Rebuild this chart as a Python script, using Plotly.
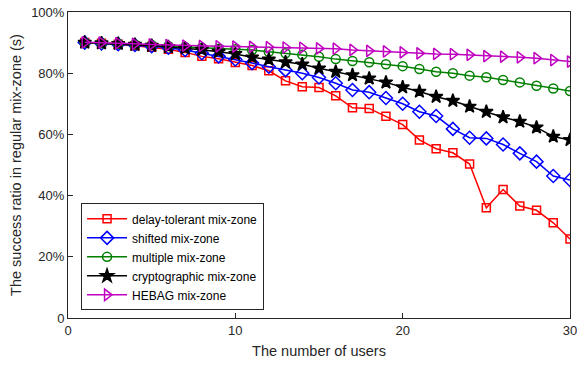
import plotly.graph_objects as go

users = list(range(1, 31))

delay_tolerant = [90.0, 89.8, 89.5, 89.0, 88.5, 87.8, 86.8, 85.5, 84.7, 83.5,
                  82.5, 80.8, 77.5, 75.6, 75.3, 72.6, 68.7, 68.5, 65.9, 63.2,
                  58.2, 55.3, 54.0, 50.3, 36.0, 42.0, 36.6, 35.2, 31.1, 25.8]
shifted = [90.0, 89.7, 89.5, 89.2, 88.8, 88.3, 87.6, 86.5, 85.5, 84.5,
           83.3, 82.1, 81.0, 80.0, 78.6, 76.7, 74.5, 73.8, 71.9, 70.0,
           67.4, 66.0, 61.8, 58.9, 58.7, 56.7, 53.8, 51.1, 46.4, 45.1]
multiple = [90.0, 89.8, 89.6, 89.4, 89.2, 88.9, 88.6, 88.3, 88.0, 87.8,
            87.6, 87.0, 86.5, 86.0, 85.4, 84.6, 84.0, 83.6, 82.9, 82.3,
            81.4, 80.5, 80.0, 79.2, 78.7, 77.8, 77.0, 75.9, 75.0, 74.2]
cryptographic = [90.0, 89.8, 89.6, 89.3, 89.0, 88.6, 88.2, 87.7, 87.0, 86.3,
                 85.2, 84.5, 83.6, 82.9, 81.6, 80.5, 79.4, 78.3, 77.0, 75.4,
                 74.0, 72.3, 71.0, 69.1, 67.4, 65.6, 64.2, 62.3, 59.3, 58.2]
hebag = [90.1, 90.0, 89.8, 89.6, 89.4, 89.2, 89.0, 88.9, 88.8, 88.7,
         88.6, 88.5, 88.4, 88.3, 88.1, 88.0, 87.6, 87.3, 87.1, 86.8,
         86.5, 86.3, 86.2, 86.0, 85.6, 85.4, 85.2, 84.9, 84.3, 83.8]

series_names = ["delay-tolerant mix-zone", "shifted mix-zone", "multiple mix-zone",
                "cryptographic mix-zone", "HEBAG mix-zone"]
x_ticks = [0, 10, 20, 30]
y_ticks = [0, 20, 40, 60, 80, 100]
y_tick_labels = ["0", "20%", "40%", "60%", "80%", "100%"]

styles = [
    dict(color="#FF0000", symbol="square-open", size=8),
    dict(color="#0000FF", symbol="diamond-open", size=10),
    dict(color="#008000", symbol="circle-open", size=9),
    dict(color="#000000", symbol="star", size=10),
    dict(color="#BF00BF", symbol="triangle-right-open", size=10),
]

fig = go.Figure()
for name, vals, st in zip(series_names,
                          [delay_tolerant, shifted, multiple, cryptographic, hebag],
                          styles):
    fig.add_trace(go.Scatter(
        x=users, y=vals, name=name, mode="lines+markers",
        line=dict(color=st["color"], width=1.5),
        marker=dict(symbol=st["symbol"], size=st["size"], color=st["color"],
                    line=dict(color=st["color"], width=1.5)),
    ))

axis_common = dict(showline=True, linecolor="#262626", linewidth=1, mirror=True,
                   ticks="inside", ticklen=5, tickcolor="#262626", showgrid=False,
                   zeroline=False, automargin=False, ticklabeloverflow="allow",
                   tickfont=dict(family="Liberation Sans, Arial", size=13, color="#262626"))

fig.update_layout(
    width=577, height=365,
    margin=dict(l=68, r=7, t=12, b=47),
    paper_bgcolor="white", plot_bgcolor="white",
    font=dict(family="Liberation Sans, Arial", color="#262626"),
    xaxis=dict(range=[0, 30], tickvals=x_ticks,
               title=dict(text="The number of users", font=dict(size=14.5), standoff=9),
               **axis_common),
    yaxis=dict(range=[0, 100], tickvals=y_ticks, ticktext=y_tick_labels,
               title=dict(text="The success ratio in regular mix-zone (s)", font=dict(size=14.5), standoff=6),
               **axis_common),
    legend=dict(x=0.026, y=0.025, xanchor="left", yanchor="bottom",
                bgcolor="white", bordercolor="#262626", borderwidth=1,
                font=dict(size=12, color="#000000"), tracegroupgap=0,
                itemwidth=40),
    showlegend=True,
)

fig.write_html("out.html",
               config={"displayModeBar": False},
               post_script="document.body.style.margin='0';document.body.style.overflow='hidden';")
